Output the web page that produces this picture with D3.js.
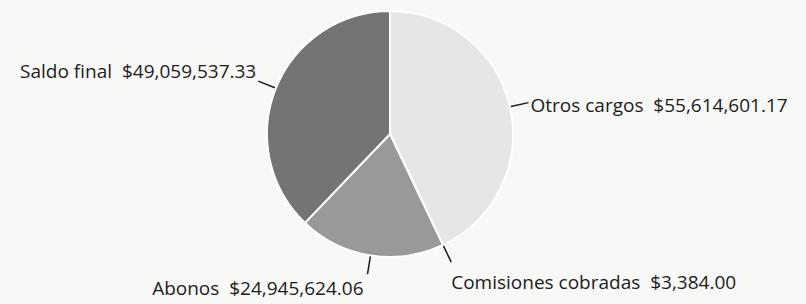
<!DOCTYPE html>
<html>
<head>
<meta charset="utf-8">
<script src="https://cdn.jsdelivr.net/npm/d3@7"></script>
<style>
  html, body { margin: 0; padding: 0; background: #f8f8f6; }
  svg { display: block; }
  .label { font-family: "Open Sans", sans-serif; font-size: 19px; fill: #1c1c1c; white-space: pre; }
  .leader { stroke: #1c1c1c; stroke-width: 1.5; fill: none; }
</style>
</head>
<body>
<svg id="chart"></svg>
<script>
// chart data
const categories = ["Otros cargos", "Comisiones cobradas", "Abonos", "Saldo final"];
const values = [55614601.17, 3384.00, 24945624.06, 49059537.33];
const valueLabels = ["$55,614,601.17", "$3,384.00", "$24,945,624.06", "$49,059,537.33"];
const colors = ["#e6e6e4", "#8a8a8a", "#999999", "#747474"];

const width = 806, height = 304;
const cx = 390, cy = 134, radius = 123;

// how each label sits relative to the end of its leader line
const labelPlacement = [
  { anchor: "start", dx: 2, dy: 9 },
  { anchor: "start", dx: 0, dy: 27 },
  { anchor: "end", dx: -4, dy: 21 },
  { anchor: "end", dx: -2, dy: -3 }
];

const svg = d3.select("#chart")
    .attr("width", width)
    .attr("height", height);

const data = categories.map((c, i) => ({ name: c, value: values[i], label: valueLabels[i], i: i }));

const pie = d3.pie()
    .sort(null)
    .value(d => d.value);

const arc = d3.arc()
    .innerRadius(0)
    .outerRadius(radius);

const arcs = pie(data);

const g = svg.append("g")
    .attr("transform", `translate(${cx},${cy})`);

g.selectAll("path.slice")
  .data(arcs)
  .join("path")
    .attr("class", "slice")
    .attr("d", arc)
    .attr("fill", d => colors[d.data.i])
    .attr("stroke", "#ffffff")
    .attr("stroke-width", 2)
    .attr("stroke-linejoin", "round");

// leader lines go radially out from the rim at the middle of each slice
const lineLen = 19;
const pointAt = (a, r) => [Math.sin(a) * r, -Math.cos(a) * r];

arcs.forEach(d => {
  const mid = (d.startAngle + d.endAngle) / 2;
  const p0 = pointAt(mid, radius + 1);
  const p1 = pointAt(mid, radius + lineLen);
  const place = labelPlacement[d.data.i];

  g.append("line")
      .attr("class", "leader")
      .attr("x1", p0[0]).attr("y1", p0[1])
      .attr("x2", p1[0]).attr("y2", p1[1]);

  g.append("text")
      .attr("class", "label")
      .attr("x", p1[0] + place.dx)
      .attr("y", p1[1] + place.dy)
      .attr("text-anchor", place.anchor)
      .text(d.data.name + "  " + d.data.label);
});
</script>
</body>
</html>
